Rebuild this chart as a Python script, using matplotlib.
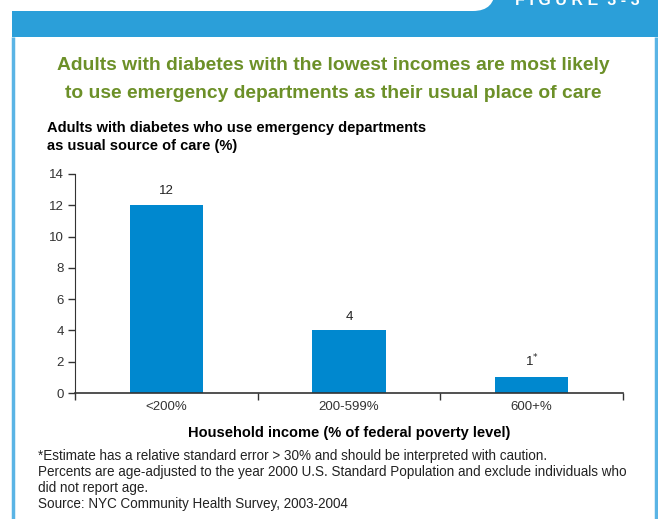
import matplotlib
matplotlib.use("Agg")
import matplotlib.pyplot as plt
from matplotlib.patches import Rectangle, FancyBboxPatch

plt.rcParams['font.family'] = ['Liberation Sans', 'DejaVu Sans']

categories = ["<200%", "200-599%", "600+%"]
values = [12, 4, 1]
value_labels = ["12", "4", "1$^{*}$"]
yticks = [0, 2, 4, 6, 8, 10, 12, 14]

W, H = 658, 519
fig = plt.figure(figsize=(W / 100, H / 100), dpi=100)

def fx(px):
    return px / W

def fy(py):
    return 1 - py / H

band_color = "#2B9FD9"
frame_color = "#5AB4E5"

# overlay axes in pixel coordinates for the frame decoration
bg = fig.add_axes([0, 0, 1, 1], zorder=-1)
bg.set_xlim(0, W)
bg.set_ylim(H, 0)
bg.axis("off")
bg.add_patch(Rectangle((12, 11), W, 26, facecolor=band_color, edgecolor="none"))
bg.add_patch(Rectangle((460, -5), W, 20, facecolor=band_color, edgecolor="none"))
bg.add_patch(FancyBboxPatch((380, -60), 115, 71,
                            boxstyle="round,pad=0,rounding_size=22",
                            facecolor="white", edgecolor="none"))
bg.plot([13, 13], [37, H + 5], color=frame_color, lw=2.5, solid_capstyle="butt")
bg.plot([655.5, 655.5], [37, H + 5], color=frame_color, lw=2.5, solid_capstyle="butt")
bg.text(515, 5, "F I G U R E  3 - 3", color="white", fontsize=11.5,
        fontweight="bold", ha="left", va="baseline")

# title
title_color = "#6C9028"
fig.text(fx(333), fy(66), "Adults with diabetes with the lowest incomes are most likely",
         color=title_color, fontsize=13.9, fontweight="bold", ha="center", va="center")
fig.text(fx(333), fy(93), "to use emergency departments as their usual place of care",
         color=title_color, fontsize=13.9, fontweight="bold", ha="center", va="center")

# y-axis title
fig.text(fx(47), fy(128), "Adults with diabetes who use emergency departments",
         fontsize=10.5, fontweight="bold", ha="left", va="center")
fig.text(fx(47), fy(146), "as usual source of care (%)",
         fontsize=10.5, fontweight="bold", ha="left", va="center")

ax = fig.add_axes([fx(75), fy(393), fx(623 - 75), (393 - 174) / H])
ax.patch.set_alpha(0)
x = list(range(len(categories)))
ax.bar(x, values, width=0.4, color="#0088CF")
for xi, v, lab in zip(x, values, value_labels):
    ax.text(xi, v + 0.5, lab, ha="center", va="bottom", fontsize=9.5, color="#222222")

ax.set_xlim(-0.5, 2.5)
ax.set_ylim(0, 14)
ax.set_yticks(yticks)
ax.set_yticklabels([str(t) for t in yticks], fontsize=9.5, color="#333333")
ax.set_xticks(x)
ax.set_xticklabels(categories, fontsize=9.5, color="#333333")
ax.tick_params(axis="x", length=0, pad=6)
ax.set_xticks([-0.5, 0.5, 1.5, 2.5], minor=True)
ax.tick_params(axis="x", which="minor", length=5, width=1, direction="out", color="#333333")
ax.tick_params(axis="y", length=5, width=1, direction="out", color="#333333", pad=3)
for s in ["top", "right"]:
    ax.spines[s].set_visible(False)
ax.spines["left"].set_color("#333333")
ax.spines["bottom"].set_color("#333333")
ax.spines["bottom"].set_linewidth(1.2)

fig.text(fx(349), fy(433), "Household income (% of federal poverty level)",
         fontsize=10.5, fontweight="bold", ha="center", va="center")

notes = [
    "*Estimate has a relative standard error > 30% and should be interpreted with caution.",
    "Percents are age-adjusted to the year 2000 U.S. Standard Population and exclude individuals who",
    "did not report age.",
    "Source: NYC Community Health Survey, 2003-2004",
]
for i, n in enumerate(notes):
    fig.text(fx(38), fy(456 + 16 * i), n, fontsize=9.75, ha="left", va="center", color="#222222")

fig.savefig("out.png", dpi=100)
